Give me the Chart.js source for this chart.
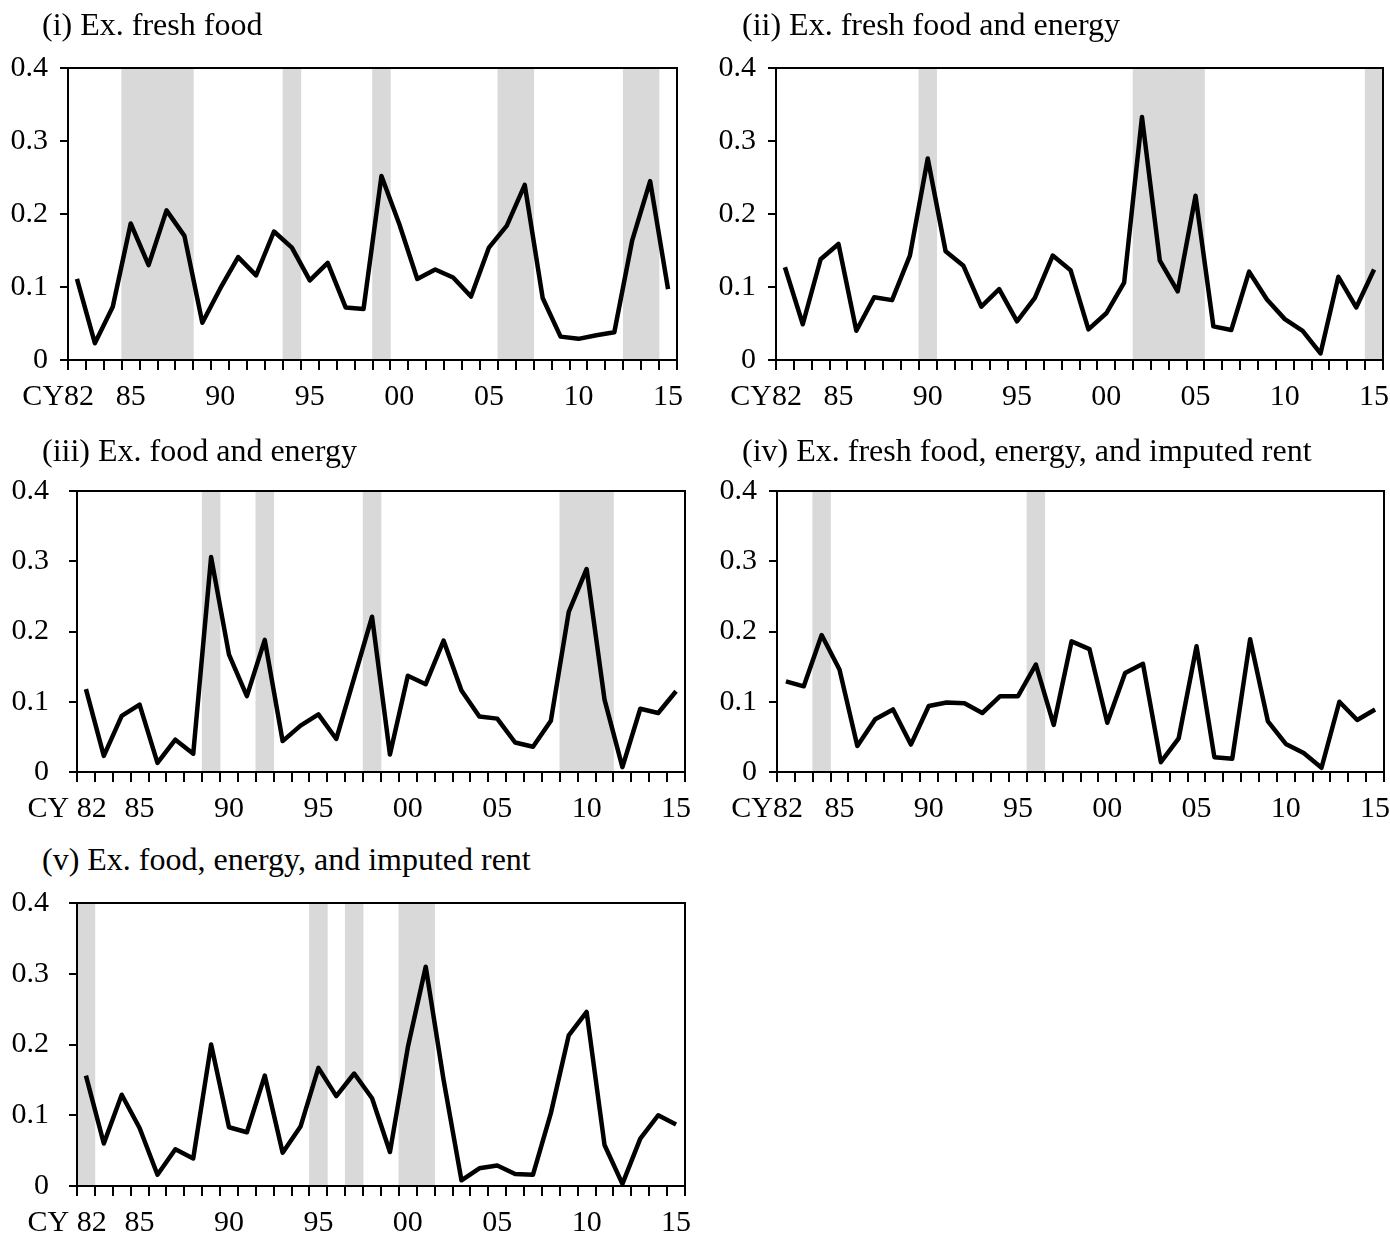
<!DOCTYPE html>
<html>
<head>
<meta charset="utf-8">
<script src="https://cdn.jsdelivr.net/npm/chart.js@4.4.1/dist/chart.umd.min.js"></script>
<style>
  html, body { margin: 0; padding: 0; background: #fff; }
  body { width: 1390px; height: 1234px; position: relative; overflow: hidden;
         font-family: "Liberation Serif", "Times New Roman", serif; }
  .title { position: absolute; font-size: 32px; line-height: 32px; color: #000; white-space: nowrap; z-index: 2; }
  canvas { position: absolute; z-index: 1; }
</style>
</head>
<body>
<div class="title" style="left:42px; top:8px;">(i) Ex. fresh food</div>
<div class="title" style="left:742px; top:8px;">(ii) Ex. fresh food and energy</div>
<div class="title" style="left:42px; top:434px;">(iii) Ex. food and energy</div>
<div class="title" style="left:742px; top:434px;">(iv) Ex. fresh food, energy, and imputed rent</div>
<div class="title" style="left:42px; top:843px;">(v) Ex. food, energy, and imputed rent</div>

<canvas id="p1" width="695" height="380" style="left:0px; top:40px;"></canvas>
<canvas id="p2" width="695" height="380" style="left:695px; top:40px;"></canvas>
<canvas id="p3" width="695" height="360" style="left:0px; top:465px;"></canvas>
<canvas id="p4" width="695" height="360" style="left:695px; top:465px;"></canvas>
<canvas id="p5" width="695" height="357" style="left:0px; top:877px;"></canvas>

<script>
// Calendar years on the horizontal axis
const years = [1982, 1983, 1984, 1985, 1986, 1987, 1988, 1989, 1990, 1991,
               1992, 1993, 1994, 1995, 1996, 1997, 1998, 1999, 2000, 2001,
               2002, 2003, 2004, 2005, 2006, 2007, 2008, 2009, 2010, 2011,
               2012, 2013, 2014, 2015];

// Which years get an x-axis label, and the label text
const xLabelYears = [1982, 1985, 1990, 1995, 2000, 2005, 2010, 2015];
const xLabelText  = ['CY82', '85', '90', '95', '00', '05', '10', '15'];
const xLabelTextSpaced = ['CY 82', '85', '90', '95', '00', '05', '10', '15'];

// Vertical axis
const yTickLabels = ['0', '0.1', '0.2', '0.3', '0.4'];
const yMin = 0;
const yMax = 0.4;

// Series values
const exFreshFood = [0.111, 0.023, 0.073, 0.187, 0.130, 0.205, 0.170, 0.051, 0.098, 0.141,
                     0.116, 0.176, 0.154, 0.109, 0.133, 0.072, 0.070, 0.252, 0.186, 0.111,
                     0.124, 0.113, 0.087, 0.154, 0.184, 0.240, 0.085, 0.032, 0.029, 0.034,
                     0.038, 0.164, 0.245, 0.097];
const exFreshFoodEnergy = [0.127, 0.049, 0.138, 0.159, 0.040, 0.086, 0.082, 0.143, 0.276, 0.149,
                           0.129, 0.073, 0.097, 0.053, 0.085, 0.143, 0.123, 0.042, 0.064, 0.106,
                           0.333, 0.136, 0.094, 0.225, 0.046, 0.041, 0.121, 0.083, 0.056, 0.040,
                           0.009, 0.114, 0.072, 0.124];
const exFoodEnergy = [0.118, 0.023, 0.080, 0.096, 0.013, 0.046, 0.026, 0.306, 0.167, 0.108,
                      0.188, 0.044, 0.066, 0.082, 0.047, 0.134, 0.221, 0.025, 0.137, 0.125,
                      0.187, 0.116, 0.079, 0.076, 0.042, 0.036, 0.073, 0.228, 0.289, 0.103,
                      0.007, 0.090, 0.084, 0.115];
const exFreshFoodEnergyRent = [0.129, 0.122, 0.195, 0.146, 0.037, 0.075, 0.089, 0.039, 0.094, 0.099,
                               0.098, 0.084, 0.108, 0.108, 0.153, 0.067, 0.186, 0.175, 0.070, 0.141,
                               0.154, 0.014, 0.048, 0.179, 0.021, 0.019, 0.189, 0.072, 0.040, 0.027,
                               0.006, 0.100, 0.074, 0.089];
const exFoodEnergyRent = [0.156, 0.060, 0.129, 0.082, 0.016, 0.052, 0.039, 0.200, 0.083, 0.076,
                          0.156, 0.047, 0.084, 0.167, 0.127, 0.159, 0.124, 0.048, 0.196, 0.310,
                          0.150, 0.008, 0.025, 0.029, 0.017, 0.016, 0.103, 0.213, 0.246, 0.058,
                          0.003, 0.067, 0.100, 0.087];

// Shaded years per panel
const shadedFreshFood = [1985, 1986, 1987, 1988, 1994, 1999, 2006, 2007, 2013, 2014];
const shadedFreshFoodEnergy = [1990, 2002, 2003, 2004, 2005, 2015];
const shadedFoodEnergy = [1989, 1992, 1998, 2009, 2010, 2011];
const shadedFreshFoodEnergyRent = [1984, 1996];
const shadedFoodEnergyRent = [1982, 1995, 1997, 2000, 2001];

const FONT = '"Liberation Serif", "Times New Roman", serif';
const FONT_SIZE = 30;
const FIRST_LABEL_PAD = '     ';

// Outline the whole plotting area
const frame = {
  id: 'frame',
  afterDraw(chart) {
    const { ctx, chartArea: a } = chart;
    ctx.save();
    ctx.strokeStyle = '#000';
    ctx.lineWidth = 2;
    ctx.strokeRect(a.left, a.top, a.right - a.left, a.bottom - a.top);
    ctx.restore();
  }
};

// Keep the plotting area exactly where the layout options put it
function clearScalePadding(s) {
  s.paddingTop = 0;
  s.paddingBottom = 0;
  s.paddingLeft = 0;
  s.paddingRight = 0;
}

function makePanel(p) {
  const shade = years.map(y => (p.shaded.includes(y) ? yMax : null));
  const labels = p.labelText;
  new Chart(document.getElementById(p.id), {
    type: 'bar',
    data: {
      labels: years,
      datasets: [
        {
          type: 'line',
          data: p.values,
          borderColor: '#000',
          borderWidth: 4.5,
          borderJoinStyle: 'round',
          borderCapStyle: 'butt',
          pointRadius: 0,
          tension: 0,
          fill: false,
          order: 0
        },
        {
          type: 'bar',
          data: shade,
          backgroundColor: '#d9d9d9',
          borderWidth: 0,
          barPercentage: 1,
          categoryPercentage: 1,
          order: 1
        }
      ]
    },
    options: {
      responsive: false,
      animation: false,
      events: [],
      layout: { padding: { left: 0, top: p.padTop, right: p.padRight, bottom: 0 } },
      plugins: { legend: { display: false }, tooltip: { enabled: false }, title: { display: false } },
      scales: {
        x: {
          type: 'category',
          offset: true,
          grid: { offset: true, drawOnChartArea: false, drawTicks: true, tickLength: 10, color: '#000', lineWidth: 2 },
          border: { display: true, color: '#000', width: 2 },
          ticks: {
            autoSkip: false, maxRotation: 0, minRotation: 0, padding: 9, color: '#000',
            font: { family: FONT, size: FONT_SIZE },
            callback: (value, index) => {
              const k = xLabelYears.indexOf(years[index]);
              if (k < 0) return '';
              return k === 0 ? labels[k] + FIRST_LABEL_PAD : labels[k];
            }
          },
          afterFit: s => { s.height = p.xAxisH; clearScalePadding(s); }
        },
        y: {
          min: yMin, max: yMax,
          grid: { drawOnChartArea: false, drawTicks: true, tickLength: 8, color: '#000', lineWidth: 2 },
          border: { display: true, color: '#000', width: 2 },
          ticks: {
            stepSize: 0.1, padding: p.yPad, color: '#000',
            font: { family: FONT, size: FONT_SIZE },
            callback: (value, index) => yTickLabels[index]
          },
          afterFit: s => { s.width = p.yAxisW; clearScalePadding(s); }
        }
      }
    },
    plugins: [frame]
  });
}

makePanel({ id: 'p1', values: exFreshFood, shaded: shadedFreshFood, labelText: xLabelText,
            padTop: 28, padRight: 18, xAxisH: 60, yAxisW: 68, yPad: 12 });
makePanel({ id: 'p2', values: exFreshFoodEnergy, shaded: shadedFreshFoodEnergy, labelText: xLabelText,
            padTop: 28, padRight: 7, xAxisH: 60, yAxisW: 81, yPad: 12 });
makePanel({ id: 'p3', values: exFoodEnergy, shaded: shadedFoodEnergy, labelText: xLabelTextSpaced,
            padTop: 26, padRight: 10, xAxisH: 53, yAxisW: 77, yPad: 20 });
makePanel({ id: 'p4', values: exFreshFoodEnergyRent, shaded: shadedFreshFoodEnergyRent, labelText: xLabelText,
            padTop: 26, padRight: 6, xAxisH: 53, yAxisW: 82, yPad: 12 });
makePanel({ id: 'p5', values: exFoodEnergyRent, shaded: shadedFoodEnergyRent, labelText: xLabelTextSpaced,
            padTop: 26, padRight: 10, xAxisH: 48, yAxisW: 77, yPad: 20 });
</script>
</body>
</html>
